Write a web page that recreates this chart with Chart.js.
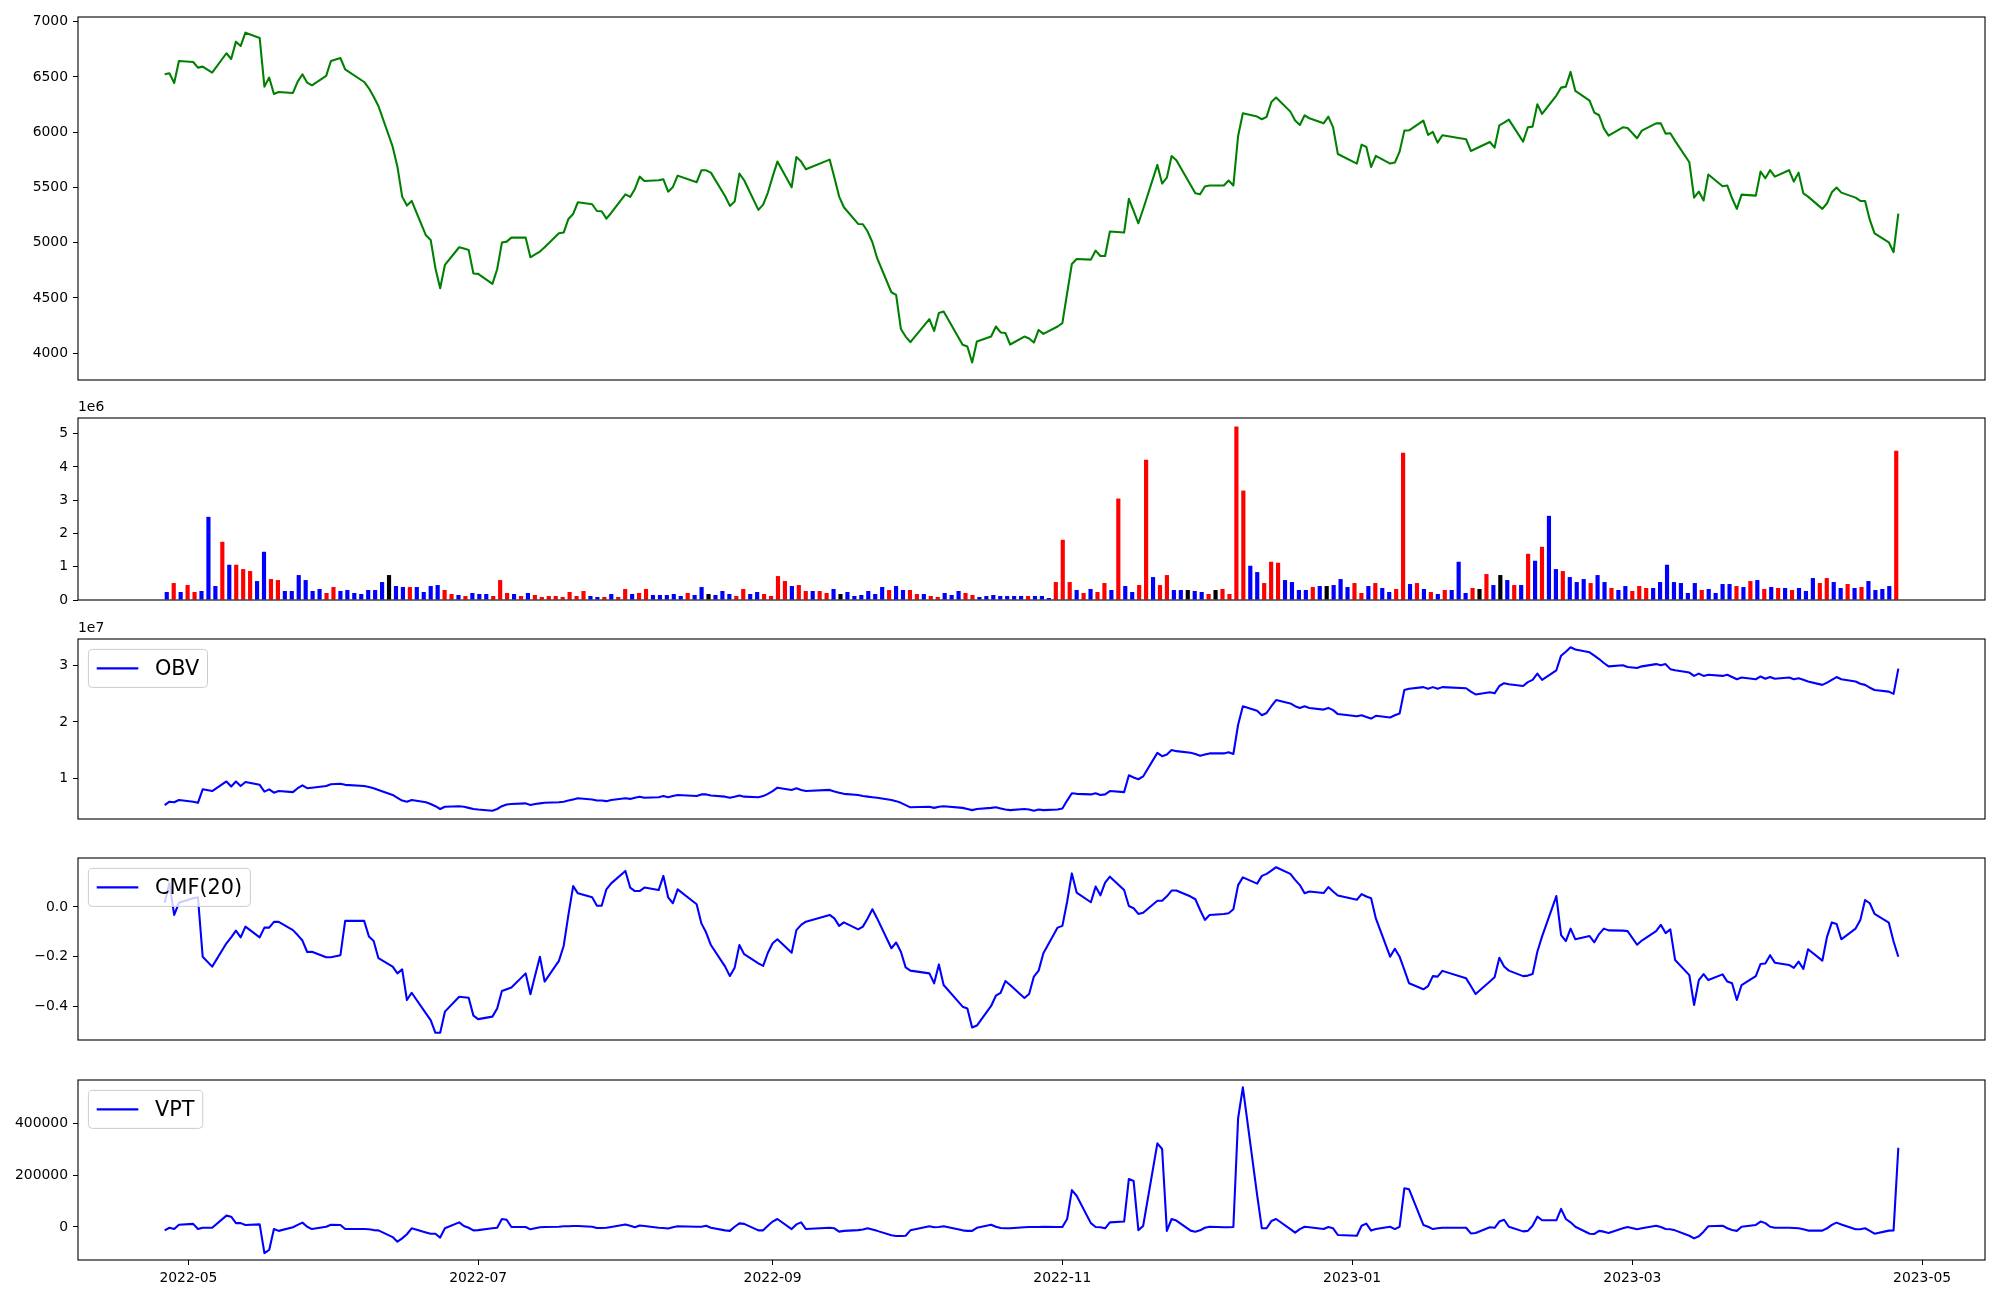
<!DOCTYPE html>
<html>
<head>
<meta charset="utf-8">
<script src="https://cdn.jsdelivr.net/npm/chart.js@4.4.1/dist/chart.umd.min.js"></script>
<style>
  body { margin: 0; background: #fff; }
  #wrap { position: relative; width: 2000px; height: 1300px; background: #fff; }
  canvas { position: absolute; left: 0; }
</style>
</head>
<body>
<div id="wrap">
  <canvas id="priceChart" width="2000" height="400" style="top:0px"></canvas>
  <canvas id="volChart" width="2000" height="222" style="top:398px"></canvas>
  <canvas id="obvChart" width="2000" height="220" style="top:619px"></canvas>
  <canvas id="cmfChart" width="2000" height="222" style="top:838px"></canvas>
  <canvas id="vptChart" width="2000" height="240" style="top:1060px"></canvas>
</div>
<script>
// trading calendar (KRX), weekends + these closed days skipped
const firstDay = '2022-04-26';
const lastDay = '2023-04-26';
const holidays = ['2022-05-05', '2022-06-01', '2022-06-06', '2022-08-15', '2022-09-09', '2022-09-12',
  '2022-10-03', '2022-10-10', '2022-12-30', '2023-01-23', '2023-01-24', '2023-03-01'];

// closing price, one per trading day (month by month)
const close = [
  6524, 6533, 6445, 6644,
  6635, 6584, 6593, 6539, 6714, 6662, 6819, 6780, 6900, 6852, 6412, 6494, 6346, 6364, 6355, 6457, 6524, 6448, 6424, 6509, 6644,
  6671, 6569, 6454, 6397, 6320, 6237, 5869, 5688, 5417, 5336, 5378, 5067, 5025, 4769, 4588, 4799, 4959, 4947, 4935, 4721,
  4718, 4627, 4760, 5001, 5010, 5046, 5046, 4868, 4895, 4920, 4959, 5085, 5092, 5215, 5260, 5366, 5348, 5287, 5285, 5218, 5269,
  5438, 5414, 5486, 5598, 5559, 5565, 5574, 5462, 5505, 5607, 5547, 5655, 5655, 5634, 5420, 5333, 5372, 5625, 5565, 5297, 5345, 5454,
  5598, 5734, 5502, 5776, 5734, 5665, 5752, 5590, 5417, 5321, 5170, 5167, 5101, 5004, 4860, 4552, 4528, 4220, 4151, 4100,
  4308, 4202, 4365, 4377, 4076, 4061, 3916, 4106, 4151, 4242, 4188, 4184, 4079, 4151, 4133, 4097, 4211, 4175, 4242,
  4272, 4543, 4808, 4853, 4847, 4929, 4880, 4880, 5101, 5092, 5397, 5287, 5176, 5303, 5704, 5535, 5589, 5785, 5746, 5523, 5447, 5438,
  5508, 5517, 5517, 5562, 5517, 5966, 6171, 6141, 6117, 6138, 6273, 6313, 6186, 6105, 6065, 6153, 6126, 6080, 6141, 6044, 5803,
  5716, 5887, 5866, 5686, 5785, 5716, 5725, 5824, 6014, 6017, 6105, 5975, 6002, 5906, 5972, 5936, 5830, 5850, 5911, 5860,
  6062, 6086, 6114, 5915, 6044, 6050, 6252, 6165, 6331, 6403, 6412, 6545, 6373, 6285, 6177, 6153, 6035, 5969, 6044, 6038,
  5945, 6014, 6080, 6080, 5987, 5990, 5921, 5728, 5408, 5463, 5382, 5617, 5511, 5517, 5402, 5306, 5435, 5426, 5644, 5583, 5656, 5598,
  5656, 5553, 5634, 5447, 5417, 5306, 5357, 5456, 5499, 5453, 5408, 5378, 5378, 5206, 5085, 5004, 4914, 5263
];

// volume in millions
const volM = [
  0.24, 0.51, 0.24, 0.45,
  0.24, 0.27, 2.50, 0.42, 1.75, 1.06, 1.06, 0.93, 0.87, 0.57, 1.45, 0.63, 0.60, 0.27, 0.27, 0.75, 0.60, 0.27, 0.33, 0.21, 0.39,
  0.27, 0.30, 0.21, 0.18, 0.30, 0.30, 0.54, 0.75, 0.42, 0.39, 0.39, 0.39, 0.24, 0.42, 0.45, 0.30, 0.18, 0.15, 0.12, 0.21,
  0.18, 0.18, 0.12, 0.60, 0.21, 0.18, 0.12, 0.21, 0.15, 0.09, 0.12, 0.12, 0.09, 0.24, 0.12, 0.27, 0.12, 0.09, 0.09, 0.18, 0.09,
  0.33, 0.18, 0.21, 0.33, 0.15, 0.15, 0.15, 0.18, 0.12, 0.21, 0.15, 0.39, 0.18, 0.15, 0.27, 0.18, 0.12, 0.33, 0.18, 0.24, 0.18, 0.12,
  0.72, 0.57, 0.42, 0.45, 0.27, 0.27, 0.27, 0.21, 0.33, 0.18, 0.24, 0.12, 0.15, 0.27, 0.18, 0.39, 0.30, 0.42, 0.30, 0.30,
  0.18, 0.18, 0.12, 0.09, 0.21, 0.15, 0.27, 0.21, 0.15, 0.09, 0.12, 0.15, 0.12, 0.12, 0.12, 0.12, 0.12, 0.12, 0.12,
  0.06, 0.54, 1.81, 0.54, 0.30, 0.21, 0.33, 0.24, 0.51, 0.30, 3.05, 0.42, 0.24, 0.45, 4.22, 0.69, 0.45, 0.75, 0.30, 0.30, 0.30, 0.27,
  0.24, 0.18, 0.30, 0.33, 0.18, 5.22, 3.29, 1.03, 0.84, 0.51, 1.15, 1.12, 0.60, 0.54, 0.30, 0.30, 0.39, 0.42, 0.42, 0.45, 0.63,
  0.39, 0.51, 0.21, 0.42, 0.51, 0.36, 0.24, 0.33, 4.43, 0.48, 0.51, 0.33, 0.24, 0.18, 0.30, 0.30, 1.15, 0.21, 0.36, 0.33,
  0.78, 0.45, 0.75, 0.60, 0.45, 0.45, 1.39, 1.18, 1.60, 2.53, 0.93, 0.87, 0.69, 0.54, 0.63, 0.51, 0.75, 0.54, 0.36, 0.30,
  0.42, 0.27, 0.42, 0.36, 0.36, 0.54, 1.06, 0.54, 0.51, 0.21, 0.51, 0.30, 0.33, 0.21, 0.48, 0.48, 0.42, 0.39, 0.57, 0.60, 0.33, 0.39,
  0.36, 0.36, 0.30, 0.36, 0.27, 0.66, 0.51, 0.66, 0.54, 0.36, 0.48, 0.36, 0.39, 0.57, 0.30, 0.33, 0.42, 4.49
];

// bar colour: 1 up (red), -1 down (blue), 0 flat (black)
const volDir = [
  -1, 1, -1, 1,
  1, -1, -1, -1, 1, -1, 1, 1, 1, -1, -1, 1, 1, -1, -1, -1, -1, -1, -1, 1, 1,
  -1, -1, -1, -1, -1, -1, -1, 0, -1, -1, 1, -1, -1, -1, -1, 1, 1, -1, 1, -1,
  -1, -1, 1, 1, 1, -1, 1, -1, 1, 1, 1, 1, 1, 1, 1, 1, -1, -1, 1, -1, 1,
  1, -1, 1, 1, -1, -1, -1, -1, -1, 1, -1, -1, 0, -1, -1, -1, 1, 1, -1, -1, 1, 1,
  1, 1, -1, 1, 1, -1, 1, 1, -1, 0, -1, -1, -1, -1, -1, -1, 1, -1, -1, 1,
  1, -1, 1, 1, -1, -1, -1, 1, 1, -1, -1, -1, -1, -1, -1, -1, 1, -1, -1,
  -1, 1, 1, 1, -1, 1, -1, 1, 1, -1, 1, -1, -1, 1, 1, -1, 1, 1, -1, -1, 0, -1,
  -1, 1, 0, 1, 1, 1, 1, -1, -1, 1, 1, 1, -1, -1, -1, -1, 1, -1, 0, -1, -1,
  -1, 1, 1, -1, 1, -1, -1, 1, 1, -1, 1, -1, 1, -1, 1, -1, -1, -1, 1, 0,
  1, -1, 0, -1, 1, -1, 1, -1, 1, -1, -1, 1, -1, -1, -1, 1, -1, -1, 1, -1,
  -1, 1, 1, 1, -1, -1, -1, -1, -1, -1, -1, 1, -1, -1, -1, -1, 1, -1, 1, -1, 1, -1,
  1, -1, 1, -1, -1, -1, 1, 1, -1, -1, 1, -1, 1, -1, -1, -1, -1, 1
];

// OBV in millions
const obvM = [
  5.2, 5.8, 5.7, 6.1,
  5.8, 5.6, 8.0, 7.7, 9.4, 8.5, 9.4, 8.6, 9.3, 8.8, 7.6, 8.0, 7.4, 7.7, 7.5, 8.2, 8.7, 8.2, 8.3, 8.6, 8.9,
  9.0, 8.8, 8.6, 8.4, 8.2, 7.9, 7.0, 6.5, 6.0, 5.8, 6.1, 5.7, 5.4, 5.0, 4.5, 4.9, 5.0, 4.9, 4.7, 4.5,
  4.4, 4.2, 4.5, 5.0, 5.3, 5.4, 5.5, 5.2, 5.4, 5.5, 5.6, 5.7, 5.8, 6.0, 6.2, 6.4, 6.2, 6.0, 6.0, 5.9, 6.1,
  6.4, 6.3, 6.5, 6.7, 6.5, 6.6, 6.8, 6.6, 6.8, 7.0, 6.8, 7.1, 7.1, 6.9, 6.7, 6.5, 6.7, 6.9, 6.7, 6.6, 6.8, 7.2,
  7.7, 8.3, 7.9, 8.2, 7.9, 7.7, 7.9, 7.6, 7.4, 7.2, 7.0, 6.8, 6.7, 6.6, 6.5, 6.1, 5.9, 5.6, 5.2, 4.8,
  4.9, 4.7, 4.9, 5.0, 4.7, 4.5, 4.3, 4.5, 4.7, 4.8, 4.6, 4.4, 4.3, 4.5, 4.4, 4.2, 4.4, 4.3, 4.4,
  4.6, 6.0, 7.3, 7.2, 7.1, 7.3, 7.0, 7.1, 7.7, 7.5, 10.5, 10.1, 9.8, 10.3, 14.5, 13.9, 14.2, 15.0, 14.8, 14.5, 14.3, 14.0,
  14.2, 14.4, 14.4, 14.6, 14.3, 19.5, 22.8, 22.0, 21.2, 21.6, 22.8, 23.9, 23.3, 22.8, 22.5, 22.8, 22.5, 22.2, 22.5, 22.1, 21.4,
  21.0, 21.2, 20.9, 20.6, 21.1, 20.8, 21.2, 21.5, 25.7, 25.9, 26.2, 25.9, 26.2, 25.9, 26.2, 26.0, 25.4, 24.9, 25.3, 25.1,
  26.4, 26.9, 26.7, 26.4, 27.1, 27.5, 28.6, 27.5, 29.2, 31.8, 32.5, 33.3, 32.9, 32.4, 31.8, 31.2, 30.5, 29.9, 30.1, 29.8,
  29.6, 29.9, 30.3, 30.1, 30.3, 29.4, 29.2, 28.8, 28.2, 28.6, 28.2, 28.4, 28.2, 28.4, 28.0, 27.6, 27.9, 27.6, 28.1, 27.7, 28.0, 27.7,
  27.9, 27.6, 27.8, 27.5, 27.2, 26.6, 27.0, 27.5, 28.0, 27.6, 27.2, 26.8, 26.6, 26.1, 25.7, 25.4, 25.0, 29.5
];

// Chaikin money flow (20)
const cmf = [
  0.017, 0.095, -0.032, 0.017,
  0.035, 0.039, -0.200, -0.240, -0.146, -0.122, -0.095, -0.122, -0.079, -0.122, -0.083, -0.083, -0.060, -0.060, -0.093, -0.113, -0.135, -0.181, -0.180, -0.202, -0.202,
  -0.194, -0.056, -0.056, -0.119, -0.137, -0.206, -0.240, -0.267, -0.251, -0.374, -0.345, -0.428, -0.455, -0.506, -0.506, -0.421, -0.361, -0.363, -0.365, -0.437,
  -0.451, -0.441, -0.408, -0.338, -0.331, -0.324, -0.267, -0.351, -0.275, -0.200, -0.300, -0.217, -0.157, -0.032, 0.084, 0.055, 0.039, 0.005, 0.005, 0.071, 0.095,
  0.145, 0.078, 0.064, 0.064, 0.078, 0.068, 0.125, 0.039, 0.015, 0.071, 0.011, -0.066, -0.103, -0.153, -0.240, -0.278, -0.244, -0.153, -0.190, -0.227, -0.237, -0.184,
  -0.146, -0.130, -0.184, -0.093, -0.072, -0.059, -0.032, -0.046, -0.076, -0.062, -0.090, -0.079, -0.046, -0.009, -0.046, -0.166, -0.143, -0.180, -0.243, -0.256,
  -0.267, -0.307, -0.231, -0.314, -0.401, -0.408, -0.485, -0.477, -0.398, -0.357, -0.345, -0.298, -0.314, -0.366, -0.350, -0.280, -0.256, -0.186, -0.083,
  -0.076, 0.021, 0.135, 0.058, 0.019, 0.082, 0.047, 0.098, 0.122, 0.068, 0.004, -0.005, -0.028, -0.023, 0.025, 0.025, 0.043, 0.066, 0.066, 0.042, 0.031, -0.012,
  -0.052, -0.032, -0.028, -0.025, -0.009, 0.088, 0.119, 0.094, 0.125, 0.133, 0.146, 0.160, 0.133, 0.109, 0.088, 0.055, 0.062, 0.056, 0.080, 0.062, 0.046,
  0.029, 0.052, 0.042, 0.035, -0.046, -0.200, -0.168, -0.200, -0.253, -0.307, -0.331, -0.318, -0.278, -0.280, -0.257, -0.287, -0.318, -0.350, -0.300, -0.283,
  -0.204, -0.239, -0.256, -0.278, -0.276, -0.270, -0.180, -0.118, 0.044, -0.113, -0.137, -0.087, -0.130, -0.117, -0.142, -0.109, -0.087, -0.094, -0.095, -0.097,
  -0.152, -0.135, -0.097, -0.072, -0.105, -0.090, -0.213, -0.274, -0.394, -0.294, -0.270, -0.294, -0.271, -0.300, -0.307, -0.374, -0.314, -0.278, -0.229, -0.227, -0.194, -0.224,
  -0.233, -0.245, -0.220, -0.249, -0.170, -0.216, -0.119, -0.062, -0.068, -0.130, -0.087, -0.052, 0.028, 0.015, -0.028, -0.063, -0.139, -0.200
];

// volume price trend in thousands
const vptK = [
  -13, -3, -8, 9,
  12, -8, -3, -3, 44, 40, 15, 15, 8, 10, -101, -89, -8, -15, -1, 8, 17, 1, -8, 1, 9,
  8, -8, -8, -9, -12, -13, -39, -57, -44, -28, -5, -21, -26, -26, -41, -5, 18, 4, -3, -13,
  -12, -5, -3, 31, 28, 0, 0, -9, -5, -1, 0, 1, 3, 3, 4, 4, 1, -4, -4, -3, 0,
  10, 5, -1, 6, 4, -3, -4, -6, -1, 3, 1, 1, 5, -3, -13, -15, 1, 14, 12, -13, -13, 5,
  21, 31, -8, 10, 18, -8, -3, -5, -18, -15, -12, -10, -5, -10, -15, -32, -35, -35, -34, -13,
  3, -1, 0, 3, -13, -15, -15, -3, 9, 1, -4, -5, -5, -1, 0, 0, 0, 1, 0,
  0, 31, 143, 121, 15, 0, -1, -5, 18, 21, 186, 178, -12, 4, 324, 302, -15, 31, 25, -14, -18, -13,
  -3, 1, -1, -1, 0, 421, 541, 124, -5, -5, 23, 31, -8, -22, -8, 1, -1, -8, 0, -5, -31,
  -34, 5, 13, -14, -8, 1, -8, 1, 150, 146, 8, 1, -8, -5, -3, -3, -25, -23, -1, -3,
  21, 28, 1, -17, -15, 5, 40, 26, 26, 70, 31, 18, 1, -26, -27, -15, -18, -23, -5, 0,
  -9, -5, 5, 0, -8, -9, -13, -34, -44, -36, -18, 3, 5, -5, -12, -15, 1, 8, 21, 15, 1, -3,
  -3, -4, -5, -9, -14, -14, -5, 8, 17, 10, -9, -9, -5, -15, -26, -14, -13, 307
];

// axis ticks
const monthTicks = ['2022-05', '2022-07', '2022-09', '2022-11', '2023-01', '2023-03', '2023-05'];
const priceTicks = [4000, 4500, 5000, 5500, 6000, 6500, 7000];
const volTicks = [0, 1e6, 2e6, 3e6, 4e6, 5e6];
const obvTicks = [1e7, 2e7, 3e7];
const cmfTicks = [-0.4, -0.2, 0];
const vptTicks = [0, 200000, 400000];

const FONT = "'DejaVu Sans', sans-serif";
const DAY = 864e5;

function tradingDays() {
  const out = [];
  const end = Date.parse(lastDay);
  for (let t = Date.parse(firstDay); t <= end; t += DAY) {
    const d = new Date(t);
    const wd = d.getUTCDay();
    if (wd === 0 || wd === 6) continue;
    if (holidays.includes(d.toISOString().slice(0, 10))) continue;
    out.push(t / DAY);
  }
  return out;
}

const days = tradingDays();
const xMin = days[0] - 18.25;
const xMax = days[days.length - 1] + 18.25;
const monthDays = monthTicks.map(m => Date.parse(m + '-01') / DAY);

const pts = (arr, k) => days.map((d, i) => ({ x: d, y: arr[i] * k }));

// volume panel is drawn against bar number, not date (bars evenly spaced)
const BAR_W = 0.6;
const barSpan = volM.length - 1 + BAR_W;
const barMin = -BAR_W / 2 - 0.05 * barSpan;
const barMax = volM.length - 1 + BAR_W / 2 + 0.05 * barSpan;

// matplotlib-ish box + legend + offset text
const framePlugin = {
  id: 'frame',
  afterDraw(chart) {
    const a = chart.chartArea, ctx = chart.ctx;
    ctx.save();
    ctx.strokeStyle = '#000';
    ctx.lineWidth = 1.1;
    ctx.strokeRect(a.left, a.top, a.right - a.left, a.bottom - a.top);
    ctx.restore();
  }
};

const mplLegend = {
  id: 'mplLegend',
  afterDatasetsDraw(chart, args, opts) {
    if (!opts || !opts.label) return;
    const a = chart.chartArea, ctx = chart.ctx;
    const fs = 20.8;
    ctx.save();
    ctx.font = fs + 'px ' + FONT;
    const tw = ctx.measureText(opts.label).width;
    const x = a.left + 10.4, y = a.top + 10.4;
    const w = 0.4 * fs + 2 * fs + 0.8 * fs + tw + 0.4 * fs, h = 38;
    ctx.beginPath();
    ctx.roundRect(x, y, w, h, 4);
    ctx.fillStyle = 'rgba(255,255,255,0.8)';
    ctx.fill();
    ctx.strokeStyle = '#cccccc';
    ctx.lineWidth = 1;
    ctx.stroke();
    const cy = y + h / 2;
    ctx.beginPath();
    ctx.moveTo(x + 0.4 * fs, cy);
    ctx.lineTo(x + 2.4 * fs, cy);
    ctx.strokeStyle = opts.color;
    ctx.lineWidth = 2.08;
    ctx.stroke();
    ctx.fillStyle = '#000';
    ctx.textBaseline = 'middle';
    ctx.fillText(opts.label, x + 3.2 * fs, cy + 1);
    ctx.restore();
  }
};

const offsetText = {
  id: 'offsetText',
  afterDraw(chart, args, opts) {
    if (!opts || !opts.text) return;
    const a = chart.chartArea, ctx = chart.ctx;
    ctx.save();
    ctx.font = '13.9px ' + FONT;
    ctx.fillStyle = '#000';
    ctx.textBaseline = 'bottom';
    ctx.fillText(opts.text, a.left, a.top - 4);
    ctx.restore();
  }
};

function yAxis(min, max, tickVals, fmt) {
  return {
    type: 'linear',
    min: min,
    max: max,
    afterBuildTicks: s => { s.ticks = tickVals.map(v => ({ value: v })); },
    afterFit: s => { s.width = 78; },
    grid: { drawOnChartArea: false, drawTicks: true, tickLength: 5, color: '#000', lineWidth: 1 },
    border: { display: false },
    ticks: { color: '#000', padding: 5, font: { family: FONT, size: 13.9 }, callback: v => fmt(v) }
  };
}

function xAxis(showLabels, min, max) {
  if (!showLabels) return { type: 'linear', min: min, max: max, display: false, offset: false };
  return {
    type: 'linear',
    min: min,
    max: max,
    offset: false,
    afterBuildTicks: s => { s.ticks = monthDays.map(v => ({ value: v })); },
    afterFit: s => { s.height = 40; },
    grid: { drawOnChartArea: false, drawTicks: true, tickLength: 5, color: '#000', lineWidth: 1, offset: false },
    border: { display: false },
    ticks: {
      color: '#000', padding: 5, maxRotation: 0, autoSkip: false,
      font: { family: FONT, size: 13.9 },
      callback: (v, i) => monthTicks[i]
    }
  };
}

function makeChart(id, type, datasets, y, opts) {
  const x = xAxis(opts.xLabels, opts.xMin !== undefined ? opts.xMin : xMin, opts.xMax !== undefined ? opts.xMax : xMax);
  return new Chart(document.getElementById(id), {
    type: type,
    data: { datasets: datasets },
    options: {
      responsive: false,
      animation: false,
      devicePixelRatio: 1,
      layout: { padding: { top: opts.top, bottom: opts.bottom, left: 0, right: 15 } },
      scales: { x: x, y: y },
      plugins: {
        legend: { display: false },
        tooltip: { enabled: false },
        mplLegend: opts.legend || {},
        offsetText: opts.offset || {}
      }
    },
    plugins: [framePlugin, mplLegend, offsetText]
  });
}

const lineStyle = (color) => ({
  type: 'line',
  borderColor: color,
  borderWidth: 2.08,
  pointRadius: 0,
  tension: 0,
  borderJoinStyle: 'round',
  fill: false
});

// price
makeChart('priceChart', 'line',
  [Object.assign(lineStyle('#008000'), { data: pts(close, 1) })],
  yAxis(3758, 7042, priceTicks, v => String(v)),
  { top: 17, bottom: 20 });

// volume bars
const barColors = volDir.map(d => d > 0 ? '#ff0000' : (d < 0 ? '#0000ff' : '#000000'));
makeChart('volChart', 'bar',
  [{
    data: volM.map((v, i) => ({ x: i, y: v * 1e6 })),
    backgroundColor: barColors,
    borderWidth: 0,
    categoryPercentage: 1,
    barPercentage: BAR_W
  }],
  yAxis(0, 5.472e6, volTicks, v => String(Math.round(v / 1e6))),
  { top: 20, bottom: 20, offset: { text: '1e6' }, xMin: barMin, xMax: barMax });

// OBV
makeChart('obvChart', 'line',
  [Object.assign(lineStyle('#0000ff'), { data: pts(obvM, 1e6) })],
  yAxis(0.272e7, 3.477e7, obvTicks, v => String(Math.round(v / 1e7))),
  { top: 20, bottom: 20, legend: { label: 'OBV', color: '#0000ff' }, offset: { text: '1e7' } });

// CMF
makeChart('cmfChart', 'line',
  [Object.assign(lineStyle('#0000ff'), { data: pts(cmf, 1) })],
  yAxis(-0.535, 0.197, cmfTicks, v => v.toFixed(1).replace('-', '\u2212')),
  { top: 20, bottom: 20, legend: { label: 'CMF(20)', color: '#0000ff' } });

// VPT
makeChart('vptChart', 'line',
  [Object.assign(lineStyle('#0000ff'), { data: pts(vptK, 1000) })],
  yAxis(-127800, 569200, vptTicks, v => String(Math.round(v))),
  { top: 20, bottom: 0, xLabels: true, legend: { label: 'VPT', color: '#0000ff' } });
</script>
</body>
</html>
